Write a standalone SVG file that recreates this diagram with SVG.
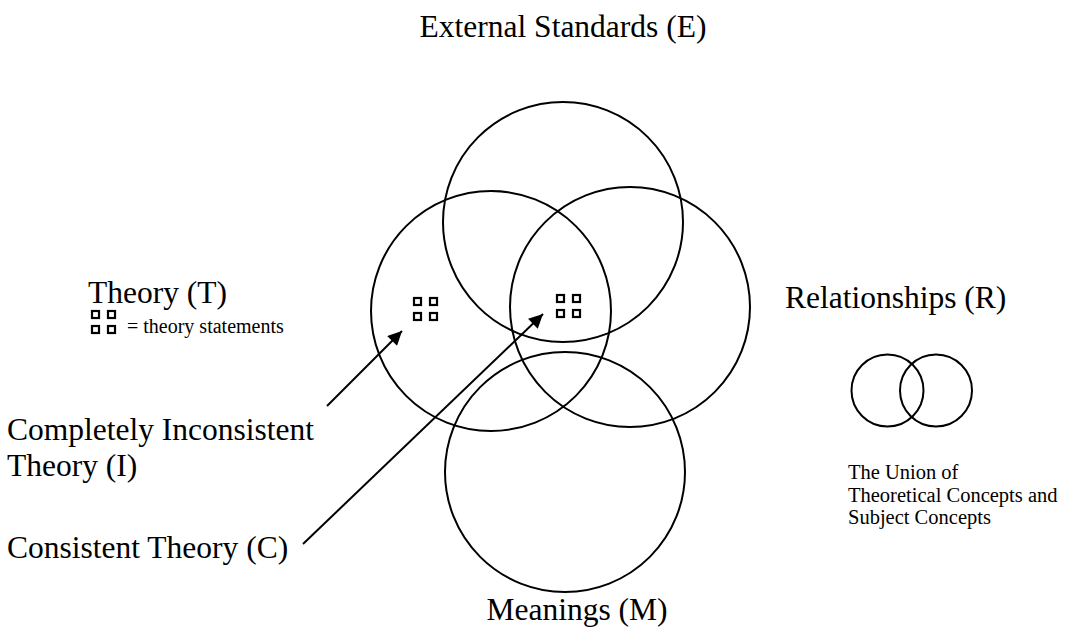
<svg xmlns="http://www.w3.org/2000/svg" width="1074" height="627" viewBox="0 0 1074 627">
<style>
.c{fill:none;stroke:#000;stroke-width:2}
.sq{fill:none;stroke:#000;stroke-width:2.2}
.big{font-family:"Liberation Serif","Times New Roman",serif;font-size:31.5px;fill:#000}
.sm{font-family:"Liberation Serif","Times New Roman",serif;font-size:20.5px;fill:#000}
.lg{font-family:"Liberation Serif","Times New Roman",serif;font-size:20px;fill:#000}
.ln{stroke:#000;stroke-width:2;fill:none}
</style>
<defs>
<marker id="ah2" viewBox="0 0 10 10" refX="10" refY="5" markerWidth="16" markerHeight="14" markerUnits="userSpaceOnUse" orient="auto">
<path d="M0,0 L10,5 L0,10 z" fill="#000"/>
</marker>
<g id="quad">
<rect x="0" y="0" width="7" height="7" class="sq"/>
<rect x="16" y="0" width="7" height="7" class="sq"/>
<rect x="0" y="15" width="7" height="7" class="sq"/>
<rect x="16" y="15" width="7" height="7" class="sq"/>
</g>
</defs>
<rect width="1074" height="627" fill="#fff"/>
<g id="circle-E"><circle class="c" cx="563" cy="222" r="120"/></g>
<g id="circle-T"><circle class="c" cx="491" cy="311" r="120"/></g>
<g id="circle-R"><circle class="c" cx="630" cy="307" r="120"/></g>
<g id="circle-M"><circle class="c" cx="565" cy="472" r="120"/></g>
<g id="statements-I"><use href="#quad" x="414" y="298"/></g>
<g id="statements-C"><use href="#quad" x="557" y="295"/></g>
<g id="legend-union">
<circle class="c" cx="887.5" cy="390.5" r="36"/>
<circle class="c" cx="936" cy="390.5" r="36"/>
</g>
<g id="connectors">
<line class="ln" x1="327" y1="406" x2="402" y2="331" marker-end="url(#ah2)"/>
<line class="ln" x1="303" y1="544" x2="543" y2="314" marker-end="url(#ah2)"/>
</g>
<g id="labels">
<text class="big" x="563" y="37" text-anchor="middle">External Standards (E)</text>
<text class="big" x="88" y="303">Theory (T)</text>
<g id="legend-statements"><use href="#quad" x="92" y="311"/>
<text class="lg" x="127" y="333">= theory statements</text></g>
<text class="big" x="785" y="308">Relationships (R)</text>
<text class="big" x="7" y="440">Completely Inconsistent</text>
<text class="big" x="7" y="476">Theory (I)</text>
<text class="big" x="7" y="558">Consistent Theory (C)</text>
<text class="big" x="577" y="620" text-anchor="middle">Meanings (M)</text>
<text class="sm" x="848" y="479">The Union of</text>
<text class="sm" x="848" y="501.5">Theoretical Concepts and</text>
<text class="sm" x="848" y="524">Subject Concepts</text>
</g>
</svg>
